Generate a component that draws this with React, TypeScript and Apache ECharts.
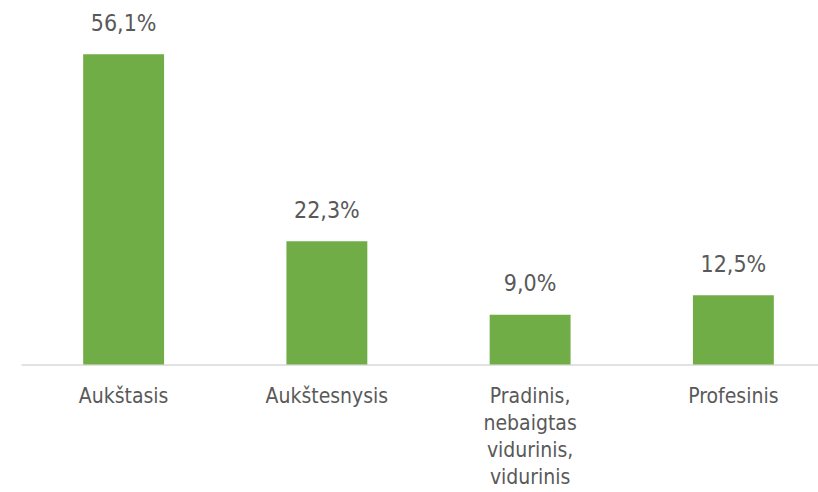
import React, { useEffect, useRef } from "react";
import * as echarts from "echarts";

const categories: string[] = [
  "Aukštasis",
  "Aukštesnysis",
  "Pradinis,\nnebaigtas\nvidurinis,\nvidurinis",
  "Profesinis",
];
const values: number[] = [56.1, 22.3, 9.0, 12.5];

const FONT = "'Liberation Sans Narrow', 'DejaVu Sans Condensed', 'Roboto', sans-serif";

export default function App() {
  const ref = useRef<HTMLDivElement>(null);
  useEffect(() => {
    if (!ref.current) return;
    const chart = echarts.init(ref.current, undefined, { renderer: "svg" });
    chart.setOption({
      animation: false,
      grid: {
        left: 22,
        width: 813,
        top: 32.8,
        height: 331.6,
        containLabel: false,
        outerBoundsMode: "none",
      },
      xAxis: {
        type: "category",
        data: categories,
        axisLine: { lineStyle: { color: "#d9d9d9", width: 1.5 } },
        axisTick: { show: false },
        axisLabel: {
          color: "#595959",
          fontSize: 21,
          fontFamily: FONT,
          lineHeight: 27,
          margin: 18,
          interval: 0,
        },
      },
      yAxis: {
        type: "value",
        min: 0,
        max: 60,
        show: false,
        splitLine: { show: false },
      },
      series: [
        {
          type: "bar",
          data: values,
          barWidth: "39.8%",
          itemStyle: { color: "#70ad47" },
          label: {
            show: true,
            position: "top",
            distance: 20,
            color: "#595959",
            fontSize: 23,
            fontFamily: FONT,
            formatter: (p: any) => (p.value as number).toFixed(1).replace(".", ",") + "%",
          },
        },
      ],
    });
    return () => chart.dispose();
  }, []);
  return <div ref={ref} style={{ width: 818, height: 492, position: "absolute", left: 0, top: 0 }} />;
}
